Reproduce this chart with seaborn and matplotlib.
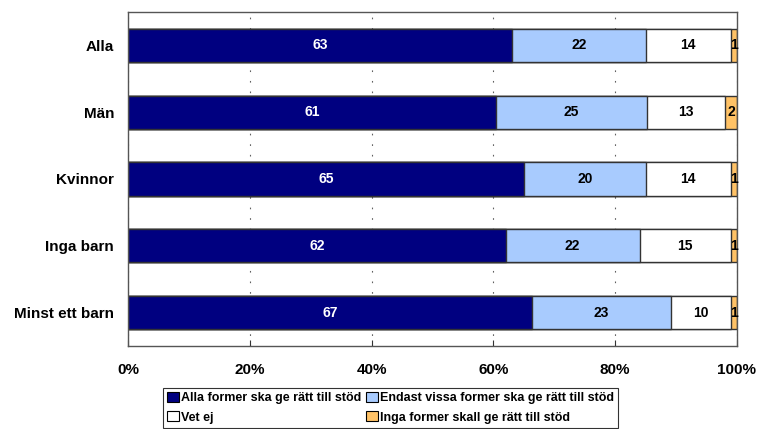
import numpy as np
import pandas as pd
import matplotlib
matplotlib.use("Agg")
import matplotlib.pyplot as plt
import seaborn as sns
from matplotlib.patches import Patch

# Data
groups = ["Alla", "Män", "Kvinnor", "Inga barn", "Minst ett barn"]
alla_former = [63, 61, 65, 62, 67]
endast_vissa = [22, 25, 20, 22, 23]
vet_ej = [14, 13, 14, 15, 10]
inga_former = [1, 2, 1, 1, 1]

series_names = ["Alla former ska ge rätt till stöd",
                "Endast vissa former ska ge rätt till stöd",
                "Vet ej",
                "Inga former skall ge rätt till stöd"]
colors = ["#000080", "#A8CBFE", "#FFFFFF", "#FFC266"]
text_colors = ["white", "black", "black", "black"]

sns.set_style("white")
plt.rcParams["font.family"] = ["Liberation Sans", "DejaVu Sans"]
plt.rcParams["text.color"] = "black"
plt.rcParams["xtick.color"] = "black"
plt.rcParams["ytick.color"] = "black"

df = pd.DataFrame({"grupp": groups,
                   series_names[0]: alla_former,
                   series_names[1]: endast_vissa,
                   series_names[2]: vet_ej,
                   series_names[3]: inga_former})
vals = df[series_names].to_numpy(dtype=float)
pct = vals / vals.sum(axis=1, keepdims=True) * 100
cum = np.cumsum(pct, axis=1)

fig = plt.figure(figsize=(7.6, 4.29), dpi=100)
ax = fig.add_axes([128 / 760, 1 - 346 / 429, 609 / 760, 334 / 429])

# draw from the outermost layer inward so each segment shows
for i in range(3, -1, -1):
    sns.barplot(x=cum[:, i], y=df["grupp"], orient="h", color=colors[i],
                saturation=1, edgecolor="#333333", linewidth=1.0,
                width=0.5, ax=ax)

for r in range(len(groups)):
    for i in range(4):
        start = cum[r, i] - pct[r, i]
        ax.text(start + pct[r, i] / 2, r, f"{int(vals[r, i])}",
                ha="center", va="center", fontsize=10, fontweight="bold",
                color=text_colors[i])

ax.set_xlim(0, 100)
ax.set_ylim(4.5, -0.5)
ax.set_xticks([0, 20, 40, 60, 80, 100])
ax.set_xticklabels([f"{t}%" for t in range(0, 101, 20)], fontsize=11,
                   fontweight="bold")
ax.set_yticklabels(groups, fontsize=11, fontweight="bold")
ax.set_xlabel("")
ax.set_ylabel("")
ax.tick_params(axis="x", direction="in", length=4, pad=12, color="#333333",
               bottom=True)
ax.tick_params(axis="y", length=0, pad=10)
ax.set_axisbelow(True)
ax.xaxis.grid(True, color="#606060", linestyle=(0, (1.5, 8)), linewidth=0.8)
for s in ax.spines.values():
    s.set_color("#555555")
    s.set_linewidth(1.0)

# legend filled row by row like the original
order = [0, 2, 1, 3]
handles = [Patch(facecolor=colors[k], edgecolor="black", linewidth=0.8) for k in order]
labels = [series_names[k] for k in order]
leg = fig.legend(handles, labels, loc="upper center",
                 bbox_to_anchor=(0.514, 1 - 388 / 429), ncol=2,
                 prop={"size": 9, "weight": "bold"}, frameon=True,
                 fancybox=False, edgecolor="black", handlelength=0.9,
                 handleheight=0.8, handletextpad=0.2, columnspacing=0.4,
                 labelspacing=0.55, borderpad=0.35, borderaxespad=0)
leg.get_frame().set_linewidth(0.8)

fig.savefig("out.png", dpi=100)
